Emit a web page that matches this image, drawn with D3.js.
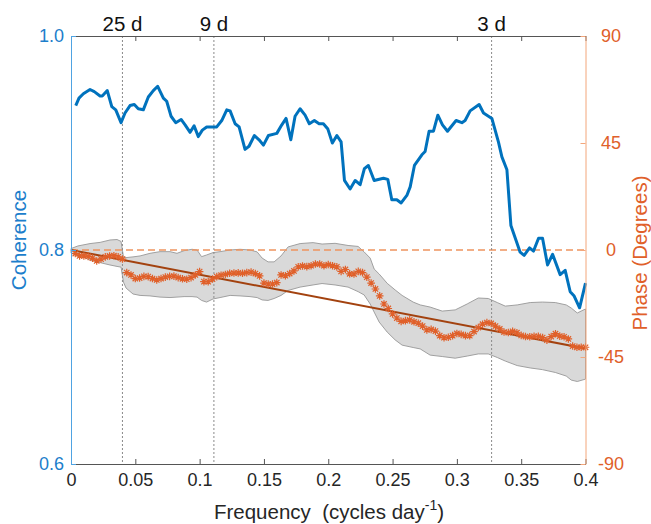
<!DOCTYPE html>
<html>
<head>
<meta charset="utf-8">
<script src="https://cdn.jsdelivr.net/npm/d3@7"></script>
<style>
  html, body { margin: 0; padding: 0; background: #fff; }
  svg { display: block; font-family: "Liberation Sans", Arial, Helvetica, sans-serif; }
</style>
</head>
<body>
<svg id="chart" width="651" height="524"></svg>
<script>
// ---- axis ticks ----
const xTicks = [0, 0.05, 0.1, 0.15, 0.2, 0.25, 0.3, 0.35, 0.4];
const xTickLabels = ["0", "0.05", "0.1", "0.15", "0.2", "0.25", "0.3", "0.35", "0.4"];
const cohTicks = [0.6, 0.8, 1.0];
const cohTickLabels = ["0.6", "0.8", "1.0"];
const phaseTicks = [-90, -45, 0, 45, 90];
const phaseTickLabels = ["-90", "-45", "0", "45", "90"];

// ---- reference periods ----
const periodFreq = [0.04, 0.1111, 0.327];
const periodLabels = ["25 d", "9 d", "3 d"];

// ---- coherence ----
const cohFreq = [0.0037,0.0062,0.0096,0.0148,0.0181,0.0226,0.0243,0.0282,0.0317,0.0348,
  0.0389,0.0420,0.0459,0.0492,0.0523,0.0562,0.0601,0.0640,0.0674,0.0718,
  0.0744,0.0778,0.0814,0.0856,0.0887,0.0926,0.0957,0.0990,0.1021,0.1055,
  0.1133,0.1172,0.1211,0.1237,0.1276,0.1307,0.1353,0.1384,0.1426,0.1462,
  0.1496,0.1535,0.1600,0.1639,0.1672,0.1709,0.1742,0.1781,0.1820,0.1853,
  0.1892,0.1929,0.1962,0.1997,0.2032,0.2067,0.2100,0.2126,0.2170,0.2209,
  0.2248,0.2281,0.2312,0.2357,0.2429,0.2463,0.2494,0.2533,0.2567,0.2611,
  0.2637,0.2670,0.2728,0.2753,0.2784,0.2818,0.2852,0.2888,0.2927,0.2994,
  0.3039,0.3064,0.3103,0.3173,0.3207,0.3272,0.3323,0.3350,0.3389,0.3420,
  0.3492,0.3523,0.3565,0.3596,0.3635,0.3666,0.3705,0.3744,0.3803,0.3842,
  0.3881,0.3912,0.3954,0.4000];
const cohValue = [0.935,0.942,0.946,0.950,0.948,0.944,0.944,0.949,0.934,0.931,
  0.919,0.928,0.935,0.936,0.932,0.931,0.943,0.949,0.953,0.942,
  0.939,0.925,0.919,0.922,0.917,0.910,0.916,0.906,0.912,0.915,
  0.915,0.921,0.931,0.930,0.918,0.915,0.894,0.897,0.907,0.903,
  0.898,0.907,0.909,0.917,0.923,0.903,0.925,0.932,0.926,0.918,
  0.921,0.918,0.918,0.913,0.900,0.907,0.901,0.865,0.857,0.865,
  0.861,0.876,0.879,0.865,0.867,0.866,0.847,0.847,0.844,0.851,
  0.859,0.879,0.889,0.892,0.911,0.911,0.926,0.917,0.911,0.921,
  0.919,0.921,0.930,0.936,0.928,0.923,0.901,0.887,0.875,0.823,
  0.798,0.795,0.802,0.799,0.811,0.811,0.786,0.796,0.777,0.781,
  0.761,0.757,0.746,0.769];

// ---- phase estimates on the spectral grid (df = 1/300 cycles/day) ----
const phaseFreq = d3.range(1, 121).map(i => i / 300);
const phaseValue = [-1.5,-2.5,-2.5,-2.7,-3.4,-4.6,-3.8,-2.9,-2.5,-2.4,
  -2.9,-3.8,-9.5,-10.5,-12.0,-11.8,-11.1,-11.2,-12.0,-12.6,
  -12.0,-11.4,-11.1,-11.0,-11.6,-12.1,-12.3,-11.6,-10.5,-9.1,
  -13.3,-13.3,-12.2,-11.2,-10.6,-10.3,-9.8,-9.7,-9.6,-9.8,
  -9.5,-9.3,-9.9,-10.9,-13.9,-14.3,-14.3,-13.7,-10.5,-10.8,
  -9.9,-8.8,-7.1,-6.7,-7.0,-6.6,-5.9,-5.9,-6.6,-6.1,
  -6.6,-7.1,-9.0,-8.2,-10.0,-10.1,-9.0,-9.5,-11.4,-13.9,
  -16.4,-19.3,-22.7,-24.6,-26.9,-28.6,-30.0,-29.7,-29.4,-30.2,
  -30.8,-32.0,-33.6,-33.4,-34.1,-36.0,-36.9,-36.7,-36.0,-35.1,
  -35.5,-36.0,-36.0,-34.3,-32.6,-31.2,-30.5,-30.9,-32.0,-33.2,
  -34.5,-34.7,-34.2,-34.8,-35.9,-36.4,-36.5,-36.3,-36.3,-36.8,
  -37.9,-36.4,-35.2,-36.2,-36.5,-37.4,-40.4,-40.9,-40.9,-40.9];

// ---- phase confidence band ----
const bandFreq = [0,0.0054,0.0148,0.0226,0.0303,0.0358,0.0389,0.0408,0.0428,0.0482,
  0.0537,0.0614,0.0692,0.0770,0.0824,0.0879,0.0941,0.0980,0.1015,0.1054,
  0.1104,0.1159,0.1237,0.1314,0.1392,0.1447,0.1486,0.1532,0.1579,0.1633,
  0.1688,0.1781,0.1882,0.1952,0.2053,0.2154,0.2232,0.2279,0.2326,0.2357,
  0.2396,0.2458,0.2520,0.2574,0.2660,0.2715,0.2792,0.2886,0.2987,0.3080,
  0.3166,0.3244,0.3314,0.3376,0.3469,0.3570,0.3664,0.3765,0.3850,0.3889,
  0.3936,0.4];
const bandUpper = [0.6,1.7,2.7,3.2,4.2,4.4,3.6,-2.9,-3.2,-2.9,
  -2.5,-1.4,-0.7,-0.7,-1.4,-0.3,0.3,0,-2.8,-2.1,
  -1.1,-0.7,0,0.3,0,-0.8,-3.4,-5.0,-5.0,-2.5,
  1.3,2.7,3.1,2.5,2.8,1.9,1.5,-0.8,-3.4,-8.0,
  -10.1,-14.0,-16.8,-19.1,-21.9,-23.1,-24.0,-25.7,-25.2,-22.7,
  -20.2,-20.4,-22.1,-23.6,-23.1,-22.1,-21.9,-22.1,-23.1,-24.4,
  -26.5,-24.8];
const bandLower = [-1.3,-2.1,-4.2,-5.3,-6.3,-6.9,-7.2,-13.5,-16.0,-18.5,
  -19.1,-19.3,-19.8,-20.0,-19.8,-19.6,-19.6,-19.8,-21.2,-21.9,
  -20.6,-20.0,-19.1,-19.3,-19.6,-20.0,-21.0,-21.2,-20.4,-19.1,
  -17.0,-15.6,-14.7,-14.1,-14.7,-15.6,-17.5,-18.9,-22.7,-26.1,
  -30.3,-34.5,-37.8,-40.0,-41.0,-41.6,-44.2,-44.8,-45.5,-44.6,
  -43.7,-43.7,-45.2,-46.7,-48.6,-49.6,-50.3,-51.5,-53.0,-54.7,
  -55.3,-54.3];

// ---- linear phase fit ----
const fitFreq = [0, 0.4];
const fitPhase = [0, -41.4];

// ---- colours ----
const cohColor = "#0072BD";
const cohAxisColor = "#4FA3E2";
const cohTextColor = "#1C7ECB";
const phaseColor = "#E0602A";
const phaseAxisColor = "#F3A67B";
const fitColor = "#A3420F";

// ---- layout ----
const plotLeft = 71, plotRight = 585.5, plotTop = 36, plotBottom = 464;

const svg = d3.select("#chart");

const x = d3.scaleLinear().domain([0, 0.4]).range([plotLeft, plotRight]);
const yCoh = d3.scaleLinear().domain([0.6, 1.0]).range([plotBottom, plotTop]);
const yPh = d3.scaleLinear().domain([-90, 90]).range([plotBottom, plotTop]);

// confidence band
const bandData = bandFreq.map((f, i) => ({ f, lo: bandLower[i], hi: bandUpper[i] }));
svg.append("path")
  .datum(bandData)
  .attr("d", d3.area().x(d => x(d.f)).y0(d => yPh(d.lo)).y1(d => yPh(d.hi)))
  .attr("fill", "#d9d9d9")
  .attr("stroke", "#a0a0a0")
  .attr("stroke-width", 1);

// zero phase reference
svg.append("line")
  .attr("x1", x(0)).attr("x2", x(0.4))
  .attr("y1", yPh(0)).attr("y2", yPh(0))
  .attr("stroke", "#EE945F")
  .attr("stroke-width", 1.5)
  .attr("stroke-dasharray", "7,4");

// period markers
svg.selectAll("line.period")
  .data(periodFreq)
  .join("line")
  .attr("class", "period")
  .attr("x1", d => x(d)).attr("x2", d => x(d))
  .attr("y1", plotTop).attr("y2", plotBottom)
  .attr("stroke", "#8a8a8a")
  .attr("stroke-width", 1)
  .attr("stroke-dasharray", "2,2");

svg.selectAll("text.period")
  .data(periodFreq)
  .join("text")
  .attr("class", "period")
  .attr("x", d => x(d))
  .attr("y", 31)
  .attr("text-anchor", "middle")
  .attr("font-size", 20.5)
  .attr("fill", "#111")
  .text((d, i) => periodLabels[i]);

// linear fit
svg.append("path")
  .datum(fitFreq.map((f, i) => [f, fitPhase[i]]))
  .attr("d", d3.line().x(d => x(d[0])).y(d => yPh(d[1])))
  .attr("fill", "none")
  .attr("stroke", fitColor)
  .attr("stroke-width", 2);

// phase asterisks
const r = 3.8, dg = 2.7;
const star = `M${-r},0L${r},0M0,${-r}L0,${r}M${-dg},${-dg}L${dg},${dg}M${-dg},${dg}L${dg},${-dg}`;
svg.append("g")
  .selectAll("path")
  .data(phaseFreq.map((f, i) => [f, phaseValue[i]]))
  .join("path")
  .attr("transform", d => `translate(${x(d[0])},${yPh(d[1])})`)
  .attr("d", star)
  .attr("fill", "none")
  .attr("stroke", phaseColor)
  .attr("stroke-width", 1.2);

// coherence line
svg.append("path")
  .datum(cohFreq.map((f, i) => [f, cohValue[i]]))
  .attr("d", d3.line().x(d => x(d[0])).y(d => yCoh(d[1])))
  .attr("fill", "none")
  .attr("stroke", cohColor)
  .attr("stroke-width", 3)
  .attr("stroke-linejoin", "round");

// ---- axes ----
const tickLen = 5;

// bottom axis
const gB = svg.append("g").attr("transform", `translate(0,${plotBottom})`);
gB.call(d3.axisBottom(x).tickValues(xTicks).tickFormat((d, i) => xTickLabels[i]).tickSizeInner(-tickLen).tickSizeOuter(0).tickPadding(9));
gB.select(".domain").attr("stroke", "#555");
gB.selectAll(".tick line").attr("stroke", "#555");
gB.selectAll("text").attr("font-size", 18).attr("fill", "#262626").attr("font-family", "Liberation Sans, Arial, sans-serif");

// top axis
const gT = svg.append("g").attr("transform", `translate(0,${plotTop})`);
gT.call(d3.axisTop(x).tickValues(xTicks).tickFormat("").tickSizeInner(-tickLen).tickSizeOuter(0));
gT.select(".domain").attr("stroke", "#555");
gT.selectAll(".tick line").attr("stroke", "#555");

// left axis (coherence)
const gL = svg.append("g").attr("transform", `translate(${plotLeft},0)`);
gL.call(d3.axisLeft(yCoh).tickValues(cohTicks).tickFormat((d, i) => cohTickLabels[i]).tickSizeInner(-tickLen).tickSizeOuter(0).tickPadding(7));
gL.select(".domain").attr("stroke", cohAxisColor);
gL.selectAll(".tick line").attr("stroke", cohAxisColor);
gL.selectAll("text").attr("font-size", 18).attr("fill", cohTextColor).attr("font-family", "Liberation Sans, Arial, sans-serif");

// right axis (phase)
const gR = svg.append("g").attr("transform", `translate(${plotRight},0)`);
gR.call(d3.axisRight(yPh).tickValues(phaseTicks).tickFormat("").tickSizeInner(-tickLen).tickSizeOuter(0));
gR.select(".domain").attr("stroke", phaseAxisColor);
gR.selectAll(".tick line").attr("stroke", phaseAxisColor);
svg.selectAll("text.ptick")
  .data(phaseTicks)
  .join("text")
  .attr("class", "ptick")
  .attr("x", 611)
  .attr("y", d => yPh(d))
  .attr("dy", "0.35em")
  .attr("text-anchor", "middle")
  .attr("font-size", 18)
  .attr("fill", phaseColor)
  .text((d, i) => phaseTickLabels[i]);

// axis titles
svg.append("text")
  .attr("transform", `translate(25.5,240) rotate(-90)`)
  .attr("text-anchor", "middle")
  .attr("font-size", 20.5)
  .attr("fill", cohTextColor)
  .text("Coherence");

svg.append("text")
  .attr("transform", `translate(647,253) rotate(-90)`)
  .attr("text-anchor", "middle")
  .attr("font-size", 20.5)
  .attr("fill", phaseColor)
  .text("Phase (Degrees)");

const xt = svg.append("text")
  .attr("x", 329)
  .attr("y", 519)
  .attr("text-anchor", "middle")
  .attr("font-size", 20.5)
  .attr("fill", "#262626")
  .attr("xml:space", "preserve");
xt.append("tspan").text("Frequency  (cycles day");
xt.append("tspan").attr("font-size", 14).attr("dy", -9).text("-1");
xt.append("tspan").attr("dy", 9).text(")");
</script>
</body>
</html>
